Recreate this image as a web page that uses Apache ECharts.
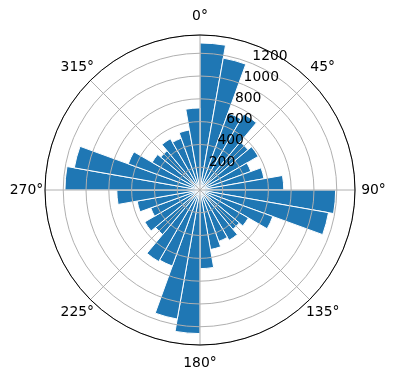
<!DOCTYPE html>
<html><head><meta charset="utf-8">
<script src="https://cdn.jsdelivr.net/npm/echarts@6/dist/echarts.min.js"></script>
<style>html,body{margin:0;padding:0;background:#fff}#c{width:396px;height:380px}</style>
</head><body><div id="c"></div>
<script>
// bar start directions (degrees, clockwise from north), each bar 10° wide
const directions = ['0','10','20','30','40','50','60','70','80','90','100','110','120','130','140','150','160','170',
  '180','190','200','210','220','230','240','250','260','270','280','290','300','310','320','330','340','350'];
const counts = [1290,1175,720,770,550,590,475,570,735,1190,1145,680,490,450,510,480,530,690,
  1260,1150,710,725,510,560,460,560,730,1185,1120,670,485,450,520,483,535,720];
const angleTicks = [0,45,90,135,180,225,270,315];
const angleTickLabels = ['0°','45°','90°','135°','180°','225°','270°','315°'];
const radiusTicks = [200,400,600,800,1000,1200];
const rMax = 1360;

const FONT = 'DejaVu Sans';
const FS = 13.9;
const C = [200,190], R = 155;
const chart = echarts.init(document.getElementById('c'), null, {renderer:'canvas'});
chart.setOption({
  animation:false,
  backgroundColor:'#fff',
  polar:[{center:C, radius:R},{center:C, radius:R},{center:C, radius:R}],
  angleAxis:[
    {polarIndex:0, type:'category', data:directions, startAngle:90, clockwise:true, boundaryGap:true,
     axisLine:{show:false}, axisTick:{show:false}, axisLabel:{show:false}, splitLine:{show:false}},
    {polarIndex:1, type:'value', min:0, max:360, interval:45, startAngle:90, clockwise:true, z:11,
     axisLine:{show:true, lineStyle:{color:'#000', width:1}},
     axisTick:{show:false}, axisLabel:{show:false},
     splitLine:{show:true, lineStyle:{color:'#b0b0b0', width:1}}},
    {polarIndex:2, type:'value', min:0, max:360, startAngle:67.5, clockwise:true,
     axisLine:{show:false}, axisTick:{show:false}, axisLabel:{show:false}, splitLine:{show:false}}
  ],
  radiusAxis:[
    {polarIndex:0, type:'value', min:0, max:rMax,
     axisLine:{show:false}, axisTick:{show:false}, axisLabel:{show:false}, splitLine:{show:false}},
    {polarIndex:1, type:'value', min:0, max:rMax, interval:200, z:10,
     axisLine:{show:false}, axisTick:{show:false}, axisLabel:{show:false},
     splitLine:{show:true, lineStyle:{color:'#b0b0b0', width:1}}},
    {polarIndex:2, type:'value', min:0, max:rMax, interval:200, z:12,
     axisLine:{show:false}, axisTick:{show:false},
     axisLabel:{show:true, margin:0, align:'left', verticalAlign:'bottom', rotate:0, color:'#000',
       fontFamily:FONT, fontSize:FS, showMinLabel:false, showMaxLabel:false,
       formatter:function(v){ return radiusTicks.indexOf(v) >= 0 ? String(v) : ''; }},
     splitLine:{show:false}}
  ],
  series:[{
    type:'bar', coordinateSystem:'polar', polarIndex:0, data:counts,
    barCategoryGap:'0%', silent:true, z:2,
    itemStyle:{color:'#1f77b4', borderColor:'#ffffff', borderWidth:1}
  }]
});

// angle tick labels, centred a fixed distance outside the frame (as matplotlib does)
const ctr = chart.convertToPixel({polarIndex:1}, [0, 0]);
const LABEL_PAD = 18.5;
const texts = angleTicks.map(function(a, i){
  const p = chart.convertToPixel({polarIndex:1}, [rMax, a]);
  const dx = p[0]-ctr[0], dy = p[1]-ctr[1];
  const len = Math.sqrt(dx*dx+dy*dy);
  const k = (len + LABEL_PAD)/len;
  return {type:'text', z:20, x: ctr[0]+dx*k, y: ctr[1]+dy*k,
    style:{text: angleTickLabels[i], fill:'#000', font: FS+'px "'+FONT+'"', align:'center', verticalAlign:'middle'}};
});
chart.setOption({graphic: texts});
</script></body></html>
